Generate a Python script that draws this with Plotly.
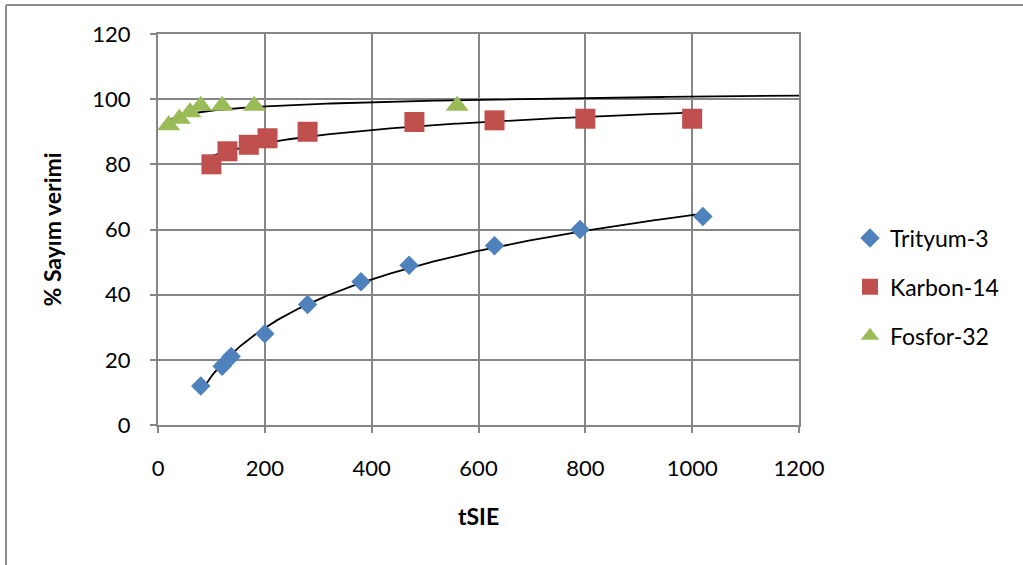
import numpy as np
import plotly.graph_objects as go

# Data
trityum_x = [80, 120, 137, 200, 280, 380, 470, 630, 790, 1020]
trityum_y = [12, 18, 21, 28, 37, 44, 49, 55, 60, 64]

karbon_x = [100, 130, 170, 205, 280, 480, 630, 800, 1000]
karbon_y = [80, 84, 86, 88, 90, 93, 93.5, 94, 94]

fosfor_x = [20, 40, 60, 80, 120, 180, 560]
fosfor_y = [92, 94, 96, 98, 98, 98, 98]

x_ticks = [0, 200, 400, 600, 800, 1000, 1200]
y_ticks = [0, 20, 40, 60, 80, 100, 120]

FONT = "Lato"
GRID = "#868686"


def log_trend(xs, ys, x_end=None):
    a, b = np.polyfit(np.log(xs), ys, 1)
    x0 = min(xs)
    x1 = x_end if x_end is not None else max(xs)
    xt = np.linspace(x0, x1, 200)
    return xt, a * np.log(xt) + b


fig = go.Figure()

series = [
    ("Trityum-3", trityum_x, trityum_y, "diamond", 15, "#4F81BD", None),
    ("Karbon-14", karbon_x, karbon_y, "square", 20, "#C0504D", None),
    ("Fosfor-32", fosfor_x, fosfor_y, "triangle-up", 20, "#9BBB59", 1200),
]

for name, xs, ys, sym, size, col, xend in series:
    xt, yt = log_trend(xs, ys, xend)
    fig.add_trace(go.Scatter(x=xt, y=yt, mode="lines",
                             line=dict(color="black", width=1.8),
                             showlegend=False, hoverinfo="skip"))

for name, xs, ys, sym, size, col, xend in series:
    fig.add_trace(go.Scatter(x=xs, y=ys, mode="markers", name=name,
                             legendgroup=name,
                             marker=dict(symbol=sym, size=size, color=col,
                                         line=dict(width=0))))

L, R, T, B = 158, 224, 34, 140
W, H = 1023, 565
pw = W - L - R
ph = H - T - B

fig.update_layout(
    width=W, height=H,
    margin=dict(l=L, r=R, t=T, b=B),
    paper_bgcolor="white", plot_bgcolor="white",
    font=dict(family=FONT, size=22, color="black"),
    legend=dict(x=(850 - L) / pw, y=(H - B - 287) / ph, xanchor="left", yanchor="middle",
                font=dict(family=FONT, size=23),
                tracegroupgap=16, itemwidth=30),
    xaxis=dict(range=[0, 1200], tickvals=x_ticks, ticks="outside", ticklen=6,
               tickcolor=GRID, tickwidth=2,
               showgrid=True, gridcolor=GRID, gridwidth=2,
               showline=True, linecolor=GRID, linewidth=2, mirror=True,
               zeroline=False, ticklabelstandoff=17,
               tickfont=dict(size=22),
               title=dict(text="<b>tSIE</b>", font=dict(size=23), standoff=28)),
    yaxis=dict(range=[0, 120], tickvals=y_ticks, ticks="outside", ticklen=6,
               tickcolor=GRID, tickwidth=2,
               showgrid=True, gridcolor=GRID, gridwidth=2,
               showline=True, linecolor=GRID, linewidth=2, mirror=True,
               zeroline=False, ticklabelstandoff=15,
               tickfont=dict(size=22),
               title=dict(text="<b>% Sayım verimi</b>", font=dict(size=23), standoff=24)),
)

# outer chart frame (top and left edges visible in the reference)
fx0 = (6 - L) / pw
fy0 = (H - B - 5) / ph
fig.add_shape(type="line", xref="paper", yref="paper", x0=fx0, x1=(W - L + 5) / pw,
              y0=fy0, y1=fy0, line=dict(color="#8c8c8c", width=2))
fig.add_shape(type="line", xref="paper", yref="paper", x0=fx0, x1=fx0,
              y0=fy0, y1=-(B + 5) / ph, line=dict(color="#8c8c8c", width=2))

fig.write_html("out.html")
